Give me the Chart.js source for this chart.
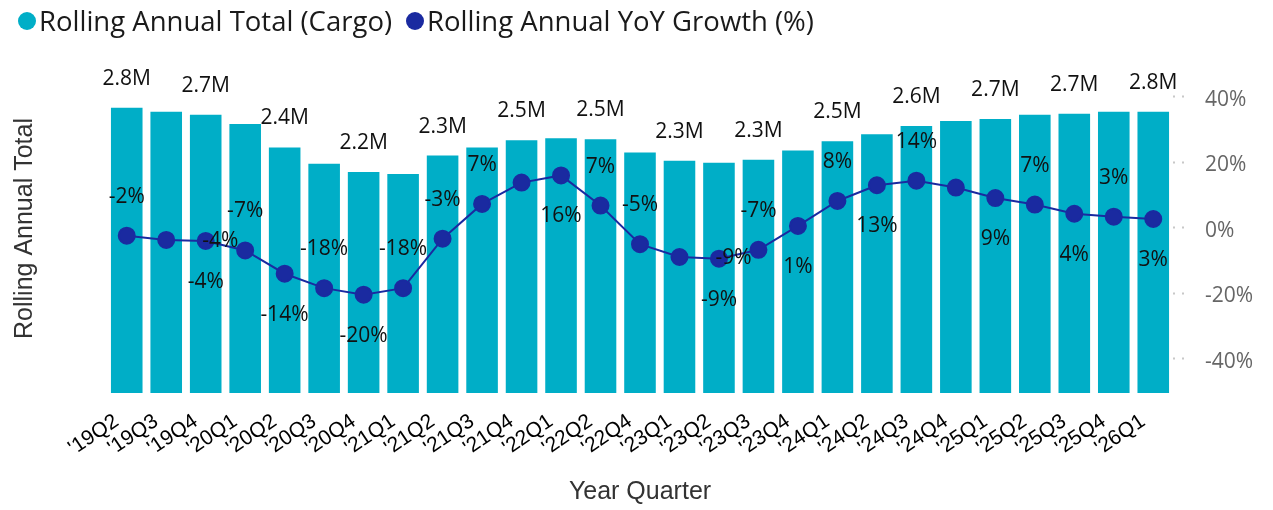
<!DOCTYPE html>
<html>
<head>
<meta charset="utf-8">
<script src="https://cdn.jsdelivr.net/npm/chart.js@4.4.1/dist/chart.umd.min.js"></script>
<style>
  body { margin: 0; background: #fff; }
  #wrap { position: relative; width: 1273px; height: 510px; }
  #legend { position: absolute; left: 18px; top: 2px; display: flex; align-items: center;
            font-family: "Open Sans", sans-serif; font-size: 27.5px; color: #1a1a1a; z-index: 2; }
  #legend .item { display: flex; align-items: center; margin-right: 14px; }
  #legend .dot { width: 18px; height: 18px; border-radius: 50%; margin-right: 3px; }
  canvas { position: absolute; left: 0; top: 0; }
</style>
</head>
<body>
<div id="wrap">
  <div id="legend"></div>
  <canvas id="myChart" width="1273" height="510"></canvas>
</div>
<script>
// quarters on the x axis ('22Q3 is not in the source)
const quarters = ["'19Q2", "'19Q3", "'19Q4", "'20Q1", "'20Q2", "'20Q3", "'20Q4", "'21Q1", "'21Q2",
  "'21Q3", "'21Q4", "'22Q1", "'22Q2", "'22Q4", "'23Q1", "'23Q2", "'23Q3", "'23Q4", "'24Q1",
  "'24Q2", "'24Q3", "'24Q4", "'25Q1", "'25Q2", "'25Q3", "'25Q4", "'26Q1"];

// rolling annual total, millions
const cargoTotal = [2.80, 2.76, 2.73, 2.64, 2.41, 2.25, 2.17, 2.15, 2.33, 2.41, 2.48, 2.50, 2.49,
  2.36, 2.28, 2.26, 2.29, 2.38, 2.47, 2.54, 2.62, 2.67, 2.69, 2.73, 2.74, 2.76, 2.76];

// rolling annual YoY growth, %
const yoyGrowth = [-2.4, -3.7, -4.0, -6.9, -14.0, -18.4, -20.4, -18.4, -3.3, 7.3, 13.8, 16.0, 6.8,
  -5.0, -8.9, -9.4, -6.7, 0.6, 8.2, 13.0, 14.4, 12.3, 9.1, 7.1, 4.3, 3.4, 2.7];

const growthTicks = [-40, -20, 0, 20, 40];

// where each growth label sits relative to its point
const growthLabelSpot = ['up', 'side', 'down', 'up', 'down', 'up', 'down', 'up', 'up', 'up', 'none',
  'down', 'up', 'up', 'side', 'down', 'up', 'down', 'up', 'down', 'up', 'none', 'down', 'up',
  'down', 'up', 'down'];

const barColor = '#00AEC7';
const lineColor = '#1A2AA0';

const valueLabels = {
    id: 'valueLabels',
    afterDatasetsDraw(chart) {
        const ctx = chart.ctx;
        ctx.save();
        ctx.font = '21px "Open Sans"';
        ctx.fillStyle = '#111';
        ctx.textAlign = 'center';
        ctx.textBaseline = 'middle';
        chart.getDatasetMeta(0).data.forEach(function(bar, i) {
            if (i % 2) return;
            ctx.fillText(cargoTotal[i].toFixed(1) + 'M', bar.x, bar.y - 29);
        });
        chart.getDatasetMeta(1).data.forEach(function(pt, i) {
            const spot = growthLabelSpot[i];
            if (spot === 'none') return;
            let dx = 0, dy = 0;
            if (spot === 'up') dy = -39;
            else if (spot === 'down') dy = 41;
            else { dx = 54; dy = 1; }
            ctx.fillText(Math.round(yoyGrowth[i]) + '%', pt.x + dx, pt.y + dy);
        });
        ctx.restore();
    }
};

let ctx = document.getElementById('myChart').getContext('2d');
let chart = new Chart(ctx, {
    type: 'bar',
    data: {
        labels: quarters,
        datasets: [
            {
                label: 'Rolling Annual Total (Cargo)',
                data: cargoTotal,
                backgroundColor: barColor,
                yAxisID: 'yTotal',
                barPercentage: 0.8,
                categoryPercentage: 1,
                order: 2
            },
            {
                type: 'line',
                label: 'Rolling Annual YoY Growth (%)',
                data: yoyGrowth,
                borderColor: lineColor,
                backgroundColor: lineColor,
                borderWidth: 2,
                pointRadius: 8,
                pointHoverRadius: 8,
                yAxisID: 'yGrowth',
                order: 1
            }
        ]
    },
    options: {
        responsive: false,
        animation: false,
        layout: { padding: { top: 64, left: 0, right: 0, bottom: 0 } },
        plugins: { legend: { display: false }, tooltip: { enabled: false } },
        scales: {
            x: {
                grid: { display: false },
                border: { display: false },
                ticks: {
                    autoSkip: false, maxRotation: 34, minRotation: 34, padding: 8, labelOffset: -10,
                    color: '#000', font: { family: '"Liberation Sans", Arial', size: 21 }
                },
                title: {
                    display: true, text: 'Year Quarter', color: '#333',
                    font: { family: '"Liberation Sans", Arial', size: 25 },
                    padding: { top: 0, bottom: 3 }
                },
                afterFit(s) { s.height = 117; }
            },
            yTotal: {
                position: 'left', min: 0, max: 3.229,
                grid: { display: false },
                border: { display: false },
                ticks: { display: false },
                title: {
                    display: true, text: 'Rolling Annual Total', color: '#333',
                    font: { family: '"Liberation Sans", Arial', size: 25 },
                    padding: { top: 10, bottom: 0 }
                },
                afterFit(s) { s.width = 107; }
            },
            yGrowth: {
                position: 'right', min: -50.4, max: 50,
                afterBuildTicks(s) { s.ticks = growthTicks.map(v => ({ value: v })); },
                grid: { drawOnChartArea: false, tickLength: 14, tickBorderDash: [2, 7], tickWidth: 2, color: '#c8c8c8' },
                border: { display: false },
                ticks: {
                    padding: 18, color: '#666', labelOffset: 3,
                    font: { family: '"Open Sans"', size: 21 },
                    callback: v => v + '%'
                },
                afterFit(s) { s.width = 100; }
            }
        }
    },
    plugins: [valueLabels]
});

// legend built from the datasets
const legend = document.getElementById('legend');
chart.data.datasets.forEach(function(ds) {
    const item = document.createElement('div');
    item.className = 'item';
    const dot = document.createElement('span');
    dot.className = 'dot';
    dot.style.background = ds.backgroundColor;
    const txt = document.createElement('span');
    txt.textContent = ds.label;
    item.appendChild(dot);
    item.appendChild(txt);
    legend.appendChild(item);
});
</script>
</body>
</html>
